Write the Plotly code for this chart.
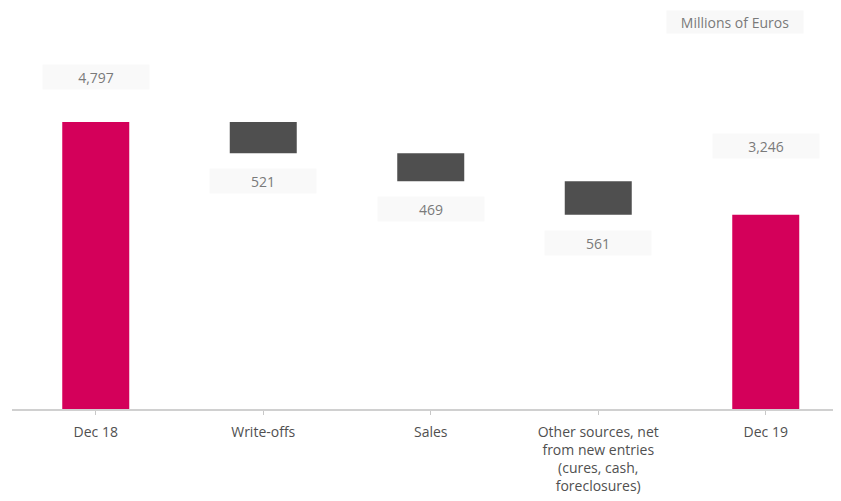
"""
Waterfall: evolution of non-performing balance, Dec 18 -> Dec 19
"""

import plotly.graph_objects as go

# data
categories = ["Dec 18", "Write-offs", "Sales",
              "Other sources, net<br>from new entries<br>(cures, cash,<br>foreclosures)",
              "Dec 19"]
values = [4797, -521, -469, -561, 3246]
measures = ["absolute", "relative", "relative", "relative", "total"]
value_labels = ["4,797", "521", "469", "561", "3,246"]
unit_label = "Millions of Euros"

PINK = "#D4005A"
DARK = "#4F4F4F"
TEXT = "#7a7a7a"

fig = go.Figure(go.Waterfall(
    x=list(range(len(categories))),
    y=values,
    measure=measures,
    width=0.4,
    totals=dict(marker=dict(color=PINK)),
    decreasing=dict(marker=dict(color=DARK)),
    increasing=dict(marker=dict(color=DARK)),
    connector=dict(visible=False),
    hoverinfo="skip",
))

# value labels: totals above the bar, changes below the floating bar
running = 0
for i, (v, m, lab) in enumerate(zip(values, measures, value_labels)):
    if m == "absolute":
        running = v
        y, shift = v, 45
    elif m == "total":
        y, shift = running, 69
    else:
        running += v
        y, shift = running, -28
    fig.add_annotation(
        x=i, y=y, yshift=shift, text=lab, showarrow=False,
        xanchor="center", yanchor="middle",
        font=dict(family="Open Sans", size=14, color=TEXT),
        bgcolor="#f9f9f9", width=104, height=22,
    )

fig.add_annotation(
    xref="paper", yref="paper", x=0.872, y=1.0, yshift=58,
    xanchor="center", yanchor="middle",
    text=unit_label, showarrow=False,
    font=dict(family="Open Sans", size=14, color=TEXT),
    bgcolor="#f8f8f8", width=134, height=20,
)

# page body adds an 8px margin, so the figure is drawn 8px smaller
fig.update_layout(
    width=833, height=493,
    margin=dict(l=4, r=0, t=72, b=92),
    plot_bgcolor="white", paper_bgcolor="white",
    showlegend=False,
    xaxis=dict(
        range=[-0.5, -0.5 + 829 / 167.5],
        tickmode="array",
        tickvals=list(range(len(categories))),
        ticktext=categories,
        tickson="boundaries",
        ticks="outside", ticklen=4, tickcolor="#c8c8c8",
        ticklabelstandoff=5,
        showline=True, linecolor="#d0d0d0", linewidth=2,
        showgrid=False, zeroline=False,
        tickfont=dict(family="Open Sans", size=14, color="#505050"),
    ),
    yaxis=dict(
        range=[0, 5500], visible=False, showgrid=False, zeroline=False,
    ),
)

fig.write_html("out.html")
